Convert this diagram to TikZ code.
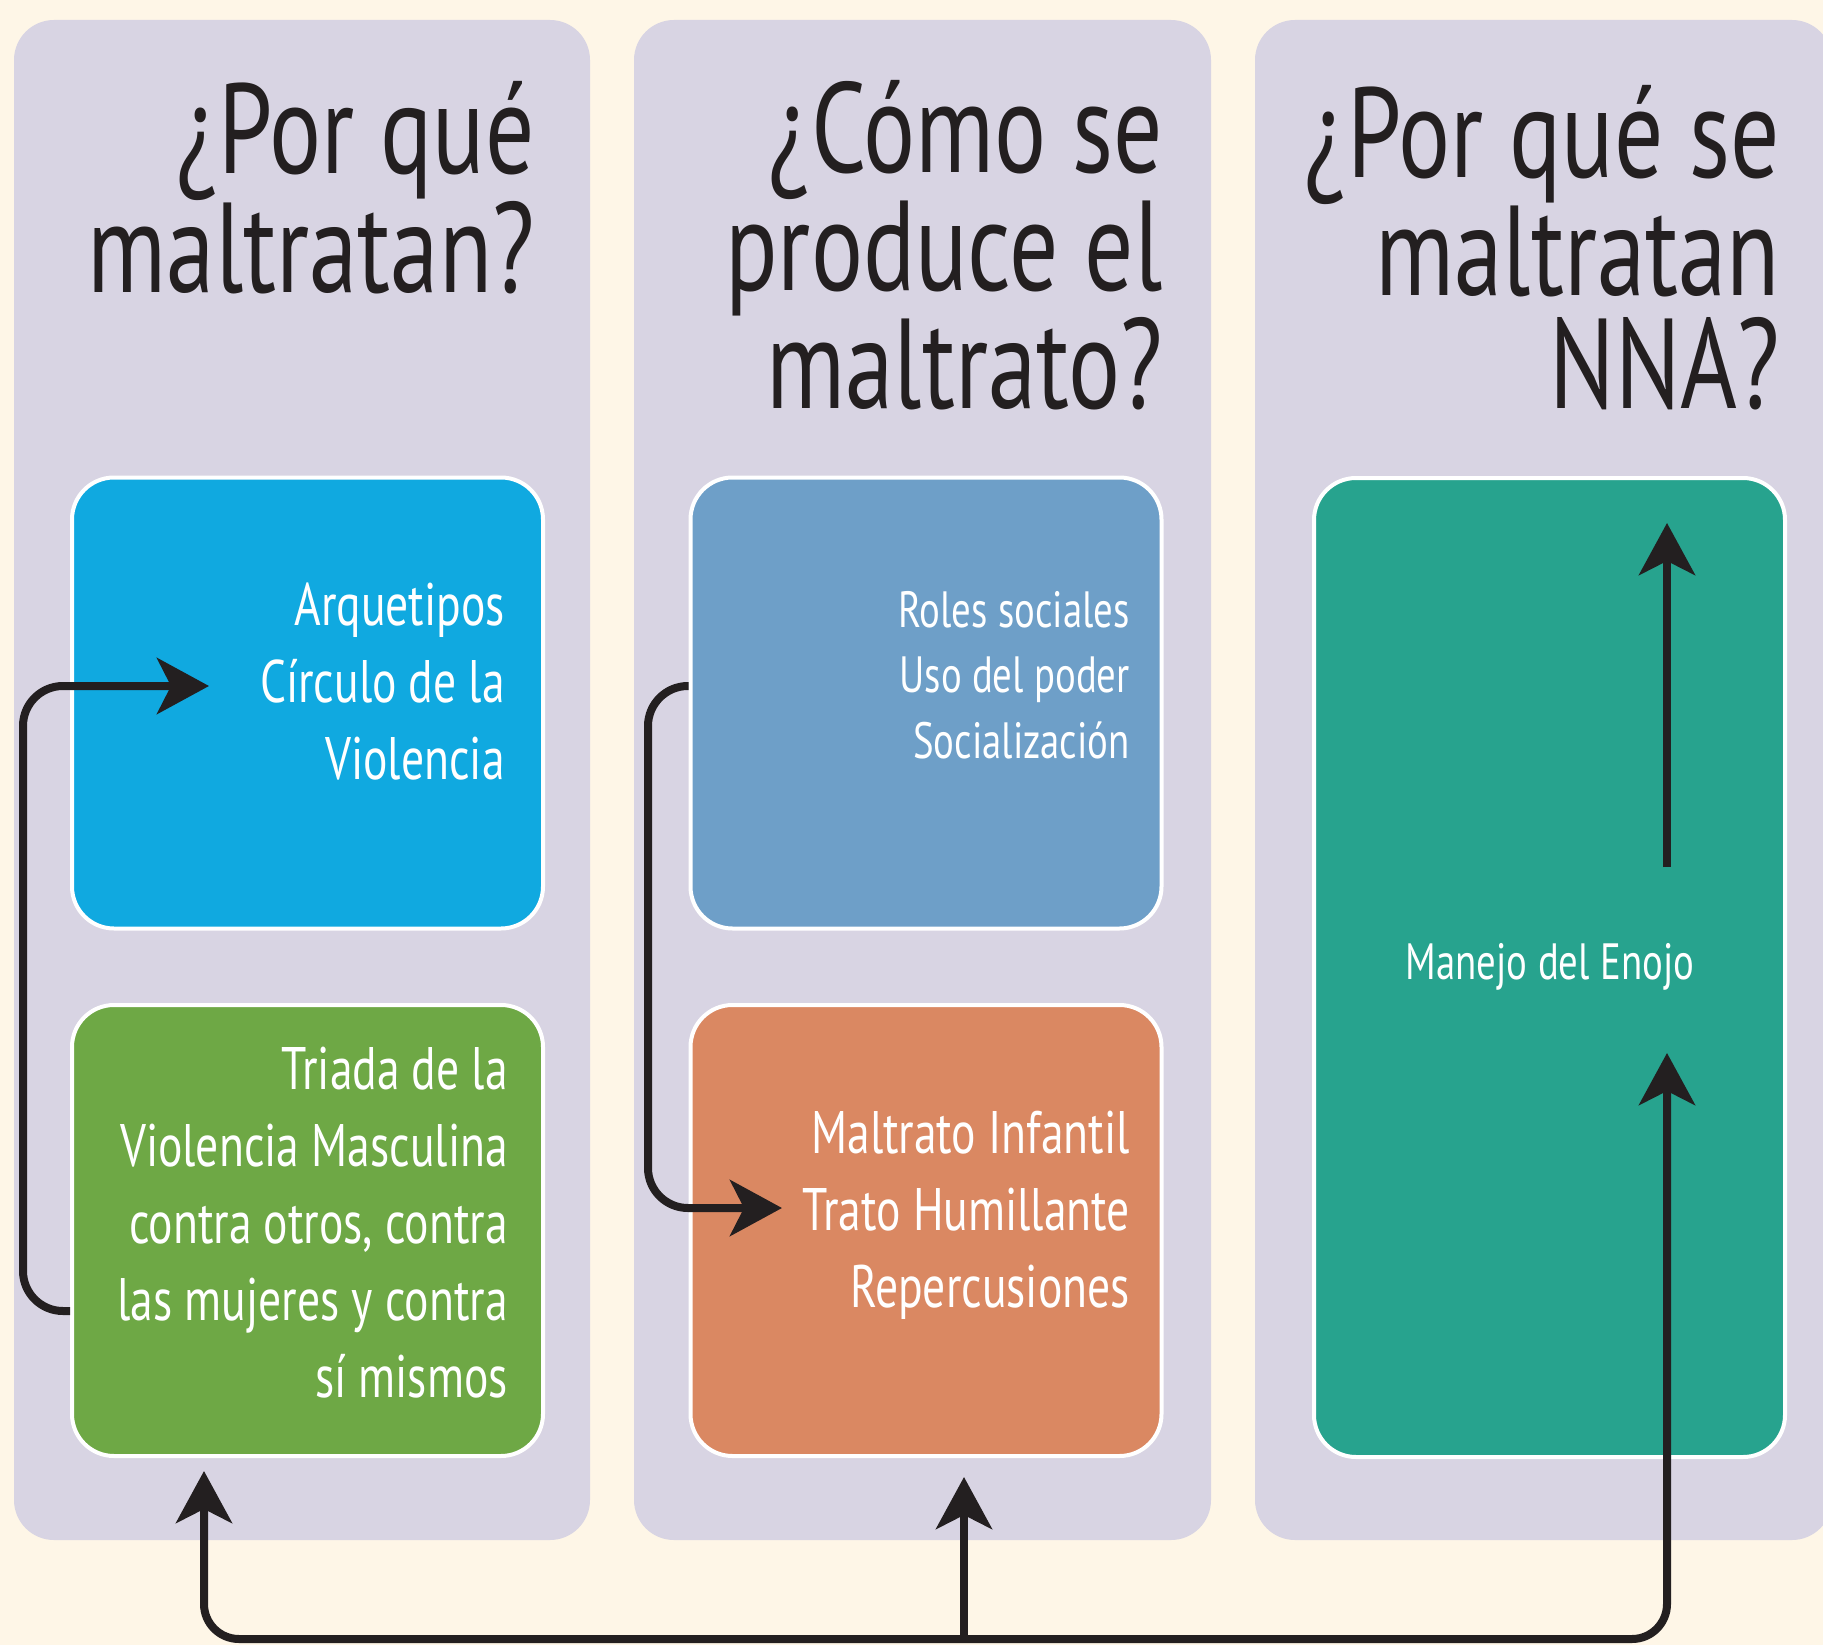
\documentclass[tikz,border=0pt]{standalone}
\usepackage{fontspec}
\setmainfont{PT Sans}[FakeStretch=0.76]
\usetikzlibrary{arrows.meta}

\definecolor{cream}{HTML}{FEF6E7}
\definecolor{lilac}{HTML}{D8D4E3}
\definecolor{skyblue}{HTML}{10A9E0}
\definecolor{leafgreen}{HTML}{6EA845}
\definecolor{steelblue}{HTML}{6E9FC8}
\definecolor{salmon}{HTML}{DA8862}
\definecolor{tealbox}{HTML}{27A38E}
\definecolor{ink}{HTML}{231F20}

\tikzset{
  bigtip/.tip={Stealth[length=52pt,width=56pt,inset=14pt]},
  panel/.style={fill=lilac, rounded corners=40pt},
  card/.style={draw=white, line width=4pt, rounded corners=42pt,
    minimum width=471pt, minimum height=451pt},
  title/.style={anchor=base east, align=right, text=ink, inner sep=0pt,
    font=\fontsize{128}{113}\selectfont},
  cardtext/.style={anchor=base east, align=right, text=white, inner sep=0pt,
    font=\fontsize{60}{77}\selectfont},
  smalltext/.style={anchor=base east, align=right, text=white, inner sep=0pt,
    font=\fontsize{51}{65.5}\selectfont},
  conn/.style={draw=ink, line width=8pt, -bigtip}
}

\begin{document}
\begin{tikzpicture}[x=1pt,y=-1pt]
% Background and page size
\fill[cream] (0,0) rectangle (1823,1645);
\useasboundingbox (0,0) rectangle (1823,1645);

% Three columns
\fill[panel] (14,20) rectangle (590,1540);
\fill[panel] (634,20) rectangle (1211,1540);
\fill[panel] (1255,20) rectangle (1832,1540);

% Column titles (anchored at the last line)
\node[title] (t1) at (535,293) {¿Por qué\\maltratan?};
\node[title] (t2) at (1163,408) {¿Cómo se\\produce el\\maltrato?};
\node[title] (t3) at (1780,408) {¿Por qué se\\maltratan\\NNA?};

% Cards
\node[card, fill=skyblue] (arq) at (307.5,703) {};
\node[card, fill=leafgreen] (triada) at (307.5,1230.5) {};
\node[card, fill=steelblue] (roles) at (926,703) {};
\node[card, fill=salmon] (maltrato) at (926,1230.5) {};
\node[card, fill=tealbox, minimum height=979pt] (enojo) at (1549.5,967.5) {};

% Card texts
\node[cardtext] (arqtxt) at (505,779) {Arquetipos\\Círculo de la\\Violencia};
\node[cardtext] (triadatxt) at (508,1397) {Triada de la\\Violencia Masculina\\contra otros, contra\\las mujeres y contra\\sí mismos};
\node[smalltext] (rolestxt) at (1130,758) {Roles sociales\\Uso del poder\\Socialización};
\node[cardtext] (maltratotxt) at (1130,1307) {Maltrato Infantil\\Trato Humillante\\Repercusiones};
\node[smalltext, anchor=base] (enojotxt) at (1550,979) {Manejo del Enojo};

% Arrow ends
\coordinate (arqtip) at (209,686);
\coordinate (maltip) at (782,1208);
\coordinate (gtip) at (204,1471);
\coordinate (mtip) at (964,1477);
\coordinate (etip) at (1667,1053);
\coordinate (ebot) at (1667,867);
\coordinate (etop) at (1667,523);
\coordinate (hub) at (964,1639);

% Side loops
\draw[conn, rounded corners=40pt] (triada.west |- 0,1311) -- (23,1311) -- (23,686) -- (arqtip);
\draw[conn, rounded corners=40pt] (roles.west |- 0,686) -- (648,686) -- (648,1208) -- (maltip);

% Bottom bus
\draw[conn, bigtip-bigtip, rounded corners=35pt] (gtip) -- (204,1639) -- (1667,1639) -- (etip);
\draw[conn] (hub) -- (mtip);
\draw[conn] (ebot) -- (etop);
\end{tikzpicture}
\end{document}
